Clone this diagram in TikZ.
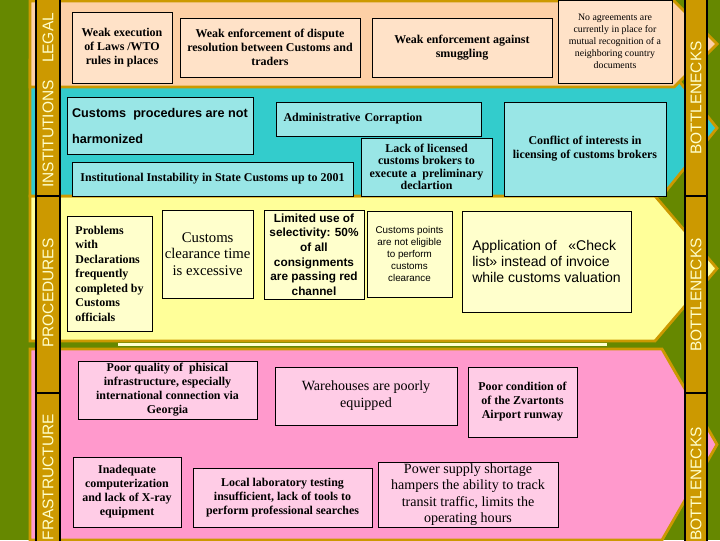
\documentclass[tikz,border=0pt]{standalone}
\usepackage{fontspec}
\setmainfont{Liberation Serif}
\setsansfont{Liberation Sans}
\usepackage{tikz}
\definecolor{oliveBg}{RGB}{102,136,0}
\definecolor{goldFill}{RGB}{204,153,0}
\definecolor{labelCream}{RGB}{255,255,204}
\definecolor{legalBand}{RGB}{253,208,166}
\definecolor{legalFill}{RGB}{255,226,200}
\definecolor{instBand}{RGB}{51,204,204}
\definecolor{instFill}{RGB}{153,230,230}
\definecolor{procBand}{RGB}{255,255,153}
\definecolor{procFill}{RGB}{255,255,204}
\definecolor{infraBand}{RGB}{255,153,204}
\definecolor{infraFill}{RGB}{255,204,230}
\tikzset{
    issueBox/.style={
        draw=black,
        line width=0.6pt,
        anchor=north west,
        inner xsep=2pt,
        inner ysep=1pt,
        outer sep=0pt,
        align=center,
        font=\bfseries\fontsize{8.5}{10}\selectfont
    },
    boxDim/.style 2 args={
        minimum width=#1*0.025cm,
        minimum height=#2*0.025cm
    },
    legalBox/.style={issueBox, fill=legalFill},
    instBox/.style={issueBox, fill=instFill},
    procBox/.style={issueBox, fill=procFill},
    infraBox/.style={issueBox, fill=infraFill},
    plainSerif/.style={font=\fontsize{10}{11.7}\selectfont},
    smallSerif/.style={font=\fontsize{7}{8.5}\selectfont},
    boldSans/.style={font=\sffamily\bfseries\fontsize{8.4}{10.4}\selectfont},
    plainSans/.style={font=\sffamily\fontsize{10}{11.7}\selectfont},
    smallSans/.style={font=\sffamily\fontsize{7}{8.5}\selectfont},
    bandEdge/.style={
        draw=goldFill,
        line width=2pt,
        line join=miter
    },
    goldBar/.style={
        fill=goldFill,
        draw=black,
        line width=0.8pt
    },
    barLabel/.style={
        rotate=90,
        inner sep=0pt,
        text=labelCream,
        font=\sffamily\fontsize{11}{13}\selectfont
    }
}

\begin{document}
\begin{tikzpicture}[x=0.025cm, y=-0.025cm]

        % Frame
        \useasboundingbox (0,0) rectangle (720,540);
        \clip (0,0) rectangle (720,540);
        \fill[oliveBg] (0,0) rectangle (720,540);

        % Macro for arrow-shaped bands (fill, top, bottom, shoulder)
        \def\drawBand#1#2#3#4{
            \filldraw[bandEdge, fill=#1] (30,#2) -- (#4,#2) -- (717,{(#2+#3)/2})
                -- (#4,#3) -- (30,#3) -- cycle;
        }

        % Bands (lowest first)
        \drawBand{infraBand}{349}{540}{662}
        \drawBand{procBand}{196}{341}{655}
        \drawBand{instBand}{60}{196}{662}
        \drawBand{legalBand}{1}{87}{674}

        % Stripe between procedures and infrastructure
        \draw[labelCream, line width=2.2pt] (118,344.5) -- (607,344.5);

        % Side bars
        \draw[goldBar] (36,-2) rectangle (60,542);
        \draw[goldBar] (685,-2) rectangle (707,542);
        \foreach \y in {196,393} {
            \draw[line width=1pt] (36,\y) -- (60,\y);
            \draw[line width=1pt] (685,\y) -- (707,\y);
        }

        % Bar labels
        \node[barLabel] (legalLabel) at (48,38) {LEGAL};
        \node[barLabel] (instLabel) at (48,134) {INSTITUTIONS};
        \node[barLabel] (procLabel) at (48,293) {PROCEDURES};
        \node[barLabel] (infraLabel) at (48,485) {INFRASTRUCTURE};
        \node[barLabel] (bottleneckTop) at (696,98) {BOTTLENECKS};
        \node[barLabel] (bottleneckMid) at (696,295) {BOTTLENECKS};
        \node[barLabel] (bottleneckLow) at (696,484) {BOTTLENECKS};

        % Legal
        \node[legalBox, boxDim={100}{71}] (execLaws) at (72,12)
            {Weak execution\\of Laws /WTO\\rules in places};
        \node[legalBox, boxDim={180}{59}] (disputeRes) at (180,18)
            {Weak enforcement of dispute\\resolution between Customs and\\traders};
        \node[legalBox, boxDim={180}{59}] (smuggling) at (372,18)
            {Weak enforcement against\\smuggling};
        \node[legalBox, smallSerif, boxDim={114}{83}] (noAgreements) at (558,0)
            {No agreements are\\currently in place for\\mutual recognition of a\\neighboring country\\documents};

        % Institutions
        \node[instBox, align=left, boxDim={186}{57},
            font=\sffamily\bfseries\fontsize{9}{18.5}\selectfont] (notHarmonized) at (67,97)
            {Customs\ \ procedures are not\\harmonized};
        \node[instBox, align=left, text width=190*0.025cm, boxDim={205}{34}] (corruption) at (276,102)
            {Administrative Corraption};
        \node[instBox, boxDim={281}{34}] (instability) at (72,162)
            {Institutional Instability in State Customs up to 2001};
        \node[instBox, boxDim={131}{58}, font=\bfseries\fontsize{8.5}{8.8}\selectfont] (brokersLack) at (361,138)
            {Lack of licensed\\customs brokers to\\execute a\ \ preliminary\\declartion};
        \node[instBox, boxDim={162}{94}] (conflictInterest) at (504,102)
            {Conflict of interests in\\licensing of customs brokers};

        % Procedures
        \node[procBox, align=left, boxDim={85}{115},
            font=\bfseries\fontsize{8.5}{10.3}\selectfont] (declProblems) at (67,216)
            {Problems\\with\\Declarations\\frequently\\completed by\\Customs\\officials};
        \node[procBox, boxDim={91}{88}, font=\fontsize{10.5}{11.7}\selectfont] (clearanceTime) at (162,210)
            {Customs\\clearance time\\is excessive};
        \node[procBox, boldSans, boxDim={100}{89}] (selectivity) at (264,210)
            {Limited use of\\selectivity: 50\%\\of all\\consignments\\are passing red\\channel};
        \node[procBox, smallSans, boxDim={85}{86}] (pointsNotEligible) at (367,211)
            {Customs points\\are not eligible\\to perform\\customs\\clearance};
        \node[procBox, plainSans, align=left, boxDim={169}{101}] (checkList) at (462,211)
            {Application of\ \ \ «Check\\list» instead of invoice\\while customs valuation};

        % Infrastructure
        \node[infraBox, boxDim={179}{58}] (physInfra) at (78,361)
            {Poor quality of\ \ phisical\\infrastructure, especially\\international connection via\\Georgia};
        \node[infraBox, font=\fontsize{10}{12}\selectfont, boxDim={182}{58}] (warehouses) at (275,367)
            {Warehouses are poorly\\equipped};
        \node[infraBox, boxDim={109}{70}] (airportRunway) at (468,367)
            {Poor condition of\\of the Zvartonts\\Airport runway};
        \node[infraBox, boxDim={108}{70}] (computerization) at (73,457)
            {Inadequate\\computerization\\and lack of X-ray\\equipment};
        \node[infraBox, boxDim={179}{59}] (labTesting) at (193,468)
            {Local laboratory testing\\insufficient, lack of tools to\\perform professional searches};
        \node[infraBox, plainSerif, boxDim={180}{65}] (powerSupply) at (378,462)
            {Power supply shortage\\hampers the ability to track\\transit traffic, limits the\\operating hours};

\end{tikzpicture}
\end{document}
